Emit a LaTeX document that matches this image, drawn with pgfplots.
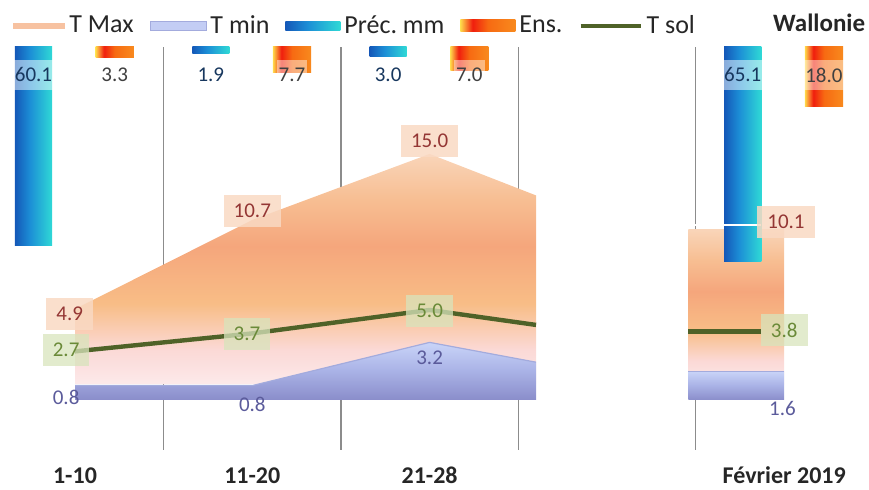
\documentclass[border=0pt]{standalone}
\usepackage{fontspec}
\setmainfont{Carlito}
\usepackage{pgfplots}
\pgfplotsset{compat=1.18}

\definecolor{gridc}{HTML}{8C8C8C}
\definecolor{tm0}{HTML}{FCE9EA}
\definecolor{tm1}{HTML}{FBD9D6}
\definecolor{tm2}{HTML}{F8BD86}
\definecolor{tm3}{HTML}{F5A67C}
\definecolor{tm4}{HTML}{F7BE92}
\definecolor{tm5}{HTML}{F9D5B9}
\definecolor{tn0}{HTML}{8A8DCA}
\definecolor{tn1}{HTML}{A9B2E6}
\definecolor{tn2}{HTML}{C9D4F8}
\definecolor{tnedge}{HTML}{A3ABDD}
\definecolor{pr0}{HTML}{1458B8}
\definecolor{pr1}{HTML}{1C8ED6}
\definecolor{pr2}{HTML}{2FD9D6}
\definecolor{en0}{HTML}{FFD84A}
\definecolor{en1}{HTML}{F01E0E}
\definecolor{en2}{HTML}{F76A12}
\definecolor{en3}{HTML}{F88A1E}
\definecolor{tsolc}{HTML}{4F6228}
\definecolor{tmaxtxt}{HTML}{943634}
\definecolor{tmaxbox}{HTML}{F9D9C3}
\definecolor{tsoltxt}{HTML}{6A8A38}
\definecolor{tsolbox}{HTML}{D8E4BC}
\definecolor{tmintxt}{HTML}{5B5B9B}
\definecolor{prectxt}{HTML}{17375E}

\pgfdeclareverticalshading{tmaxsh}{100bp}{color(0bp)=(tm0); color(25bp)=(tm0);
  color(32.5bp)=(tm1); color(42.5bp)=(tm2); color(55bp)=(tm3); color(65bp)=(tm4);
  color(75bp)=(tm5); color(100bp)=(tm5)}
\pgfdeclareverticalshading{tminsh}{100bp}{color(0bp)=(tn0); color(25bp)=(tn0);
  color(50bp)=(tn1); color(75bp)=(tn2); color(100bp)=(tn2)}
\pgfdeclarehorizontalshading{precsh}{100bp}{color(0bp)=(pr0); color(25bp)=(pr0);
  color(45bp)=(pr1); color(75bp)=(pr2); color(100bp)=(pr2)}
\pgfdeclarehorizontalshading{enssh}{100bp}{color(0bp)=(en0); color(25bp)=(en0);
  color(36bp)=(en1); color(50bp)=(en2); color(75bp)=(en3); color(100bp)=(en3)}

% 1 px of the reference = 0.5pt
\pgfplotsset{
  frame/.style={at={(0pt,0pt)}, anchor=south west, scale only axis,
    width=434.5pt, height=245pt, xmin=-0.423, xmax=4.478,
    axis line style={draw=none}, ticks=none, clip=false, enlargelimits=false},
  tmaxax/.style={frame, ymin=-6.89, ymax=25.03},
  tminax/.style={frame, ymin=-5, ymax=22.222},
  barax/.style={frame, y dir=reverse, ymin=-14.24, ymax=134.24},
  precbar/.style={ybar, bar width=0.209, bar shift=-0.234, draw=none, shading=precsh},
  ensbar/.style={ybar, bar width=0.215, bar shift=0.224, draw=none, shading=enssh},
  lab/.style={forget plot, draw=none, nodes near coords, point meta=explicit symbolic,
    every node near coord/.append style={anchor=center,
      font=\fontsize{10.5}{12}\selectfont, #1}},
}

\begin{document}
\begin{tikzpicture}
\useasboundingbox (0pt,0pt) rectangle (434.5pt,245pt);

% separators and category names
\begin{axis}[at={(0pt,20pt)}, anchor=south west, scale only axis,
    width=434.5pt, height=201.5pt, xmin=-0.423, xmax=4.478, ymin=0, ymax=1,
    axis line style={draw=none}, major tick length=0pt, minor tick length=0pt,
    xtick={0,1,2,4}, xticklabels={1-10,11-20,21-28,Février 2019}, ytick=\empty,
    minor xtick={0.5,1.5,2.5,3.5}, xminorgrids,
    minor grid style={draw=gridc, line width=0.75pt},
    xticklabel style={font=\bfseries\fontsize{12}{14}\selectfont, text=black!85,
      anchor=base, inner sep=0pt, yshift=-17pt},
    clip=false]
\addplot[draw=none] coordinates {(0,0.5)};
\end{axis}

% T Max
\begin{axis}[tmaxax]
\addplot[draw=none, shade, shading=tmaxsh] coordinates {(0,0) (0,4.9) (1,10.7) (2,15.0) (2.6,12.3) (2.6,0)} -- cycle;
\addplot[draw=none, shade, shading=tmaxsh] coordinates {(3.46,0) (3.46,10.1) (4,10.1) (4,0)} -- cycle;
\end{axis}

% T min, T sol
\begin{axis}[tminax]
\addplot[draw=none, shade, shading=tminsh] coordinates {(0,0) (0,0.8) (1,0.8) (2,3.2) (2.6,2.1) (2.6,0)} -- cycle;
\addplot[tnedge, line width=0.6pt] coordinates {(0,0.8) (1,0.8) (2,3.2) (2.6,2.1)};
\addplot[draw=none, shade, shading=tminsh] coordinates {(3.46,0) (3.46,1.6) (4,1.6) (4,0)} -- cycle;
\addplot[tnedge, line width=0.6pt] coordinates {(3.46,1.6) (4,1.6)};
\addplot[tsolc, line width=2.2pt] coordinates {(0,2.7) (1,3.7) (2,5.0) (2.6,4.17)};
\addplot[tsolc, line width=2.2pt] coordinates {(3.46,3.8) (3.87,3.8)};
\end{axis}

% Préc. mm and Ens. hanging from the top, one plot per bar so each gets its own gradient
\begin{axis}[barax]
\addplot[precbar] coordinates {(0,60.1)};
\addplot[precbar] coordinates {(1,1.9)};
\addplot[precbar] coordinates {(2,3.0)};
\addplot[precbar] coordinates {(4,65.1)};
\addplot[ensbar] coordinates {(0,3.3)};
\addplot[ensbar] coordinates {(1,7.7)};
\addplot[ensbar] coordinates {(2,7.0)};
\addplot[ensbar] coordinates {(4,18.0)};
\end{axis}

% T Max labels
\begin{axis}[tmaxax]
\addplot[white, line width=1pt] coordinates {(3.46,10.35) (3.87,10.35)};
\addplot[lab={fill=tmaxbox, fill opacity=0.85, text opacity=1, text=tmaxtxt,
    inner xsep=5pt, inner ysep=4.5pt}]
  coordinates {(-0.03,4.57) [4.9] (1.0,11.28) [10.7] (2.0,15.85) [15.0] (4.01,10.57) [10.1]};
\end{axis}

% bar labels
\begin{axis}[barax]
\addplot[lab={fill=white, fill opacity=0.5, text opacity=1, text=prectxt,
    inner xsep=1pt, inner ysep=4pt}]
  coordinates {(-0.234,8.48) [60.1] (0.766,8.48) [1.9] (1.766,8.48) [3.0] (3.766,8.48) [65.1]};
\addplot[lab={fill=white, fill opacity=0.45, text opacity=1, text=black!75,
    inner xsep=1pt, inner ysep=4pt}]
  coordinates {(0.224,8.48) [3.3] (1.224,8.48) [7.7] (2.224,8.48) [7.0] (4.224,8.48) [18.0]};
\end{axis}

% T sol and T min labels, legend, title
\begin{axis}[tminax,
    title=Wallonie, every axis title shift=0pt,
    title style={at={(rel axis cs:0.996,0.953)}, anchor=east, inner sep=0pt,
      font=\bfseries\fontsize{12.5}{14}\selectfont, text=black!85},
    legend style={at={(rel axis cs:0.015,0.947)}, anchor=west, draw=none, fill=none,
      inner sep=0pt, legend columns=-1, font=\fontsize{13}{15}\selectfont, text=black!85,
      /tikz/every even column/.append style={column sep=6pt}},
    legend cell align=left]
\addlegendimage{legend image code/.code={\fill[tm5!60!tm3, draw=none] (0pt,-1.3pt) rectangle (26pt,1.3pt);}}
\addlegendimage{legend image code/.code={\fill[tn2!80!tn1, draw=tnedge, line width=0.4pt] (0pt,-2.2pt) rectangle (28pt,2.2pt);}}
\addlegendimage{legend image code/.code={\shade[shading=precsh, draw=none] (0pt,-2.2pt) rectangle (27.5pt,2.2pt);}}
\addlegendimage{legend image code/.code={\shade[shading=enssh, draw=none] (0pt,-3pt) rectangle (27.5pt,3pt);}}
\addlegendimage{legend image code/.code={\draw[tsolc, line width=2pt] (0pt,0pt) -- (30pt,0pt);}}
\legend{T Max, T min, Préc.\ mm, Ens., T sol}
\addplot[lab={fill=tsolbox, fill opacity=0.75, text opacity=1, text=tsoltxt,
    inner xsep=5pt, inner ysep=4.5pt}]
  coordinates {(-0.05,2.78) [2.7] (0.97,3.67) [3.7] (2.0,4.94) [5.0] (4.0,3.89) [3.8]};
\addplot[lab={text=tmintxt}]
  coordinates {(-0.05,0.17) [0.8] (1.0,-0.22) [0.8] (2.0,2.33) [3.2] (3.99,-0.5) [1.6]};
\end{axis}

\end{tikzpicture}
\end{document}
